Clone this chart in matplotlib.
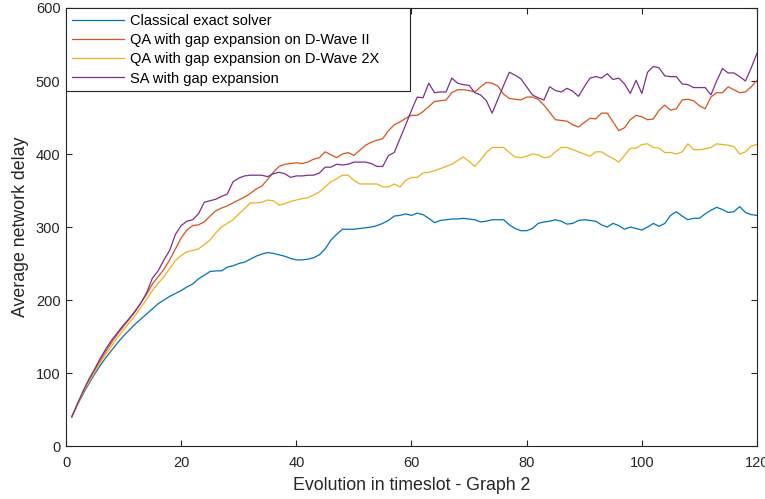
import numpy as np
import matplotlib.pyplot as plt

plt.rcParams['font.family'] = ['Liberation Sans', 'DejaVu Sans']

t = np.arange(1, 121)

classical = [40, 57, 72, 86, 99, 111, 122, 132, 142, 151, 159, 167, 174, 181, 188, 195, 200, 205, 209, 213,
             218, 222, 229, 234, 239, 240, 240, 245, 247, 250, 252, 256, 260, 263, 265, 264, 262, 260, 257, 255,
             255, 256, 258, 262, 270, 282, 290, 297, 297, 297, 298, 299, 300, 302, 305, 309, 315, 316, 318, 316,
             319, 317, 312, 306, 309, 310, 311, 311, 312, 311, 310, 307, 308, 310, 310, 310, 303, 298, 295, 295,
             298, 305, 307, 308, 310, 308, 304, 305, 309, 310, 309, 308, 303, 300, 305, 302, 297, 300, 298, 296,
             300, 305, 301, 305, 316, 321, 315, 310, 312, 312, 318, 323, 327, 324, 320, 321, 328, 320, 317, 316]

qa_dw2 = [40, 58, 75, 90, 104, 118, 131, 143, 154, 164, 174, 184, 196, 208, 222, 232, 242, 255, 270, 285,
          296, 302, 303, 307, 315, 322, 326, 329, 333, 337, 341, 346, 352, 356, 365, 375, 383, 386, 387, 388,
          387, 389, 393, 395, 403, 399, 395, 400, 402, 398, 405, 412, 416, 419, 421, 432, 440, 444, 449, 453,
          453, 458, 465, 472, 473, 474, 484, 488, 488, 487, 485, 492, 498, 497, 493, 482, 476, 475, 474, 478,
          478, 475, 467, 457, 447, 446, 445, 440, 437, 443, 449, 448, 456, 456, 444, 432, 436, 447, 453, 451,
          447, 448, 460, 467, 460, 462, 474, 475, 473, 466, 462, 478, 484, 484, 492, 488, 484, 485, 492, 501]

qa_dw2x = [40, 57, 74, 88, 102, 115, 127, 138, 149, 159, 169, 179, 190, 201, 213, 223, 232, 243, 254, 261,
           266, 268, 270, 276, 282, 292, 300, 305, 310, 318, 325, 333, 333, 334, 337, 336, 330, 332, 335, 337,
           339, 340, 344, 348, 355, 362, 366, 371, 371, 364, 359, 359, 359, 359, 355, 355, 359, 355, 364, 368,
           368, 374, 375, 377, 380, 383, 386, 391, 396, 390, 383, 392, 402, 409, 409, 409, 402, 396, 395, 397,
           400, 399, 395, 396, 403, 409, 409, 406, 403, 400, 397, 403, 403, 398, 394, 389, 398, 408, 408, 413,
           414, 409, 408, 402, 402, 400, 403, 414, 406, 406, 407, 409, 414, 413, 412, 410, 400, 403, 411, 413]

sa = [40, 58, 76, 92, 106, 121, 134, 146, 156, 166, 175, 185, 196, 210, 230, 240, 255, 268, 290, 302,
      308, 310, 318, 334, 336, 338, 342, 345, 362, 367, 370, 371, 371, 371, 369, 373, 375, 373, 368, 370,
      370, 371, 371, 374, 382, 382, 386, 385, 386, 389, 389, 389, 387, 383, 383, 398, 402, 421, 440, 460,
      478, 477, 497, 484, 485, 485, 504, 497, 495, 494, 484, 481, 473, 456, 475, 494, 512, 508, 503, 492,
      481, 477, 474, 492, 487, 485, 490, 486, 479, 492, 504, 506, 504, 510, 502, 504, 496, 483, 501, 483,
      512, 520, 518, 507, 506, 506, 496, 495, 491, 491, 491, 481, 500, 517, 511, 511, 506, 500, 518, 538]

labels = ['Classical exact solver', 'QA with gap expansion on D-Wave II',
          'QA with gap expansion on D-Wave 2X', 'SA with gap expansion']
colors = ['#0072BD', '#D95319', '#EDB120', '#7E2F8E']

fig = plt.figure(figsize=(7.65, 4.99), dpi=100)
ax = fig.add_axes([0.0863, 0.106, 0.9032, 0.878])

for y, lab, c in zip([classical, qa_dw2, qa_dw2x, sa], labels, colors):
    ax.plot(t, y, color=c, lw=0.9, label=lab)

ax.set_xlim(0, 120)
ax.set_ylim(0, 600)
ax.set_xticks(np.arange(0, 121, 20))
ax.set_yticks(np.arange(0, 601, 100))
ax.tick_params(direction='in', length=4, width=0.8, colors='#262626', labelsize=10.5,
               top=True, right=True, pad=4)
ax.tick_params(axis='x', pad=7)
for s in ax.spines.values():
    s.set_color('#262626')
    s.set_linewidth(0.8)

ax.set_xlabel('Evolution in timeslot - Graph 2', fontsize=12.8, color='#262626', labelpad=5)
ax.set_ylabel('Average network delay', fontsize=12.8, color='#262626', labelpad=5)

leg = ax.legend(loc='upper left', bbox_to_anchor=(0, 0, 0.498, 1), mode='expand',
                borderaxespad=0, fontsize=10.5, handlelength=3.6, handletextpad=0.4,
                labelspacing=0.36, fancybox=False, framealpha=1, borderpad=0.4)
leg.get_frame().set_edgecolor('#262626')
leg.get_frame().set_linewidth(0.8)
leg.set_zorder(5)

fig.savefig('out.png', dpi=100)
